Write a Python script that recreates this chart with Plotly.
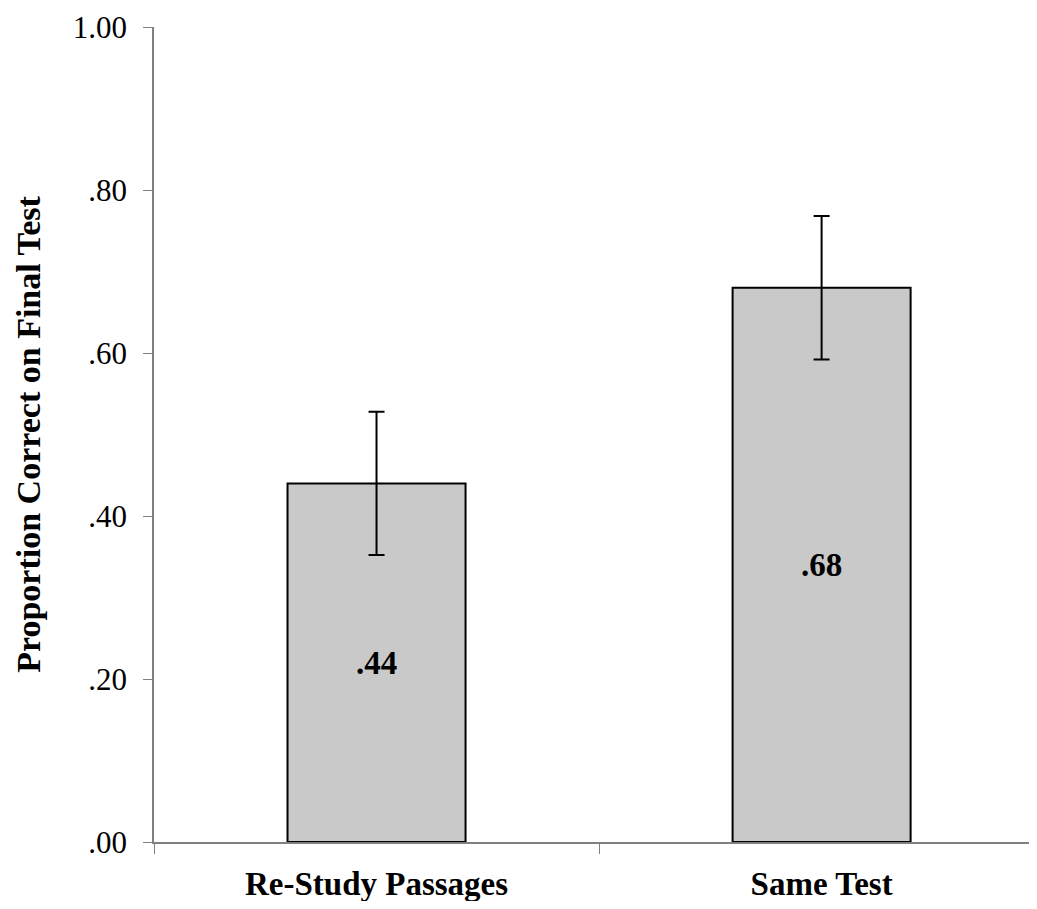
import plotly.graph_objects as go

categories = ["Re-Study Passages", "Same Test"]
values = [0.44, 0.68]
errors = [0.088, 0.088]
bar_labels = [".44", ".68"]
ytick_vals = [0.0, 0.2, 0.4, 0.6, 0.8, 1.0]
ytick_text = [".00", ".20", ".40", ".60", ".80", "1.00"]

FONT = "Liberation Serif, Times New Roman, serif"

fig = go.Figure(
    go.Bar(
        x=categories,
        y=values,
        width=0.4,
        marker=dict(color="#c9c9c9", line=dict(color="black", width=2)),
        error_y=dict(type="data", array=errors, visible=True,
                     color="black", thickness=2, width=8),
        text=bar_labels,
        textposition="inside",
        insidetextanchor="middle",
        textfont=dict(family=FONT, size=33, color="black", weight="bold"),
        hoverinfo="skip",
    )
)

# page body adds an 8px margin, so the figure is sized to fit the window
fig.update_layout(
    width=1021,
    height=893,
    margin=dict(l=146, r=0, t=19, b=59),
    paper_bgcolor="white",
    plot_bgcolor="white",
    showlegend=False,
    font=dict(family=FONT, color="black"),
)

fig.update_xaxes(
    type="category",
    range=[-0.5, 1.466],
    tickson="boundaries",
    ticks="outside",
    ticklen=10,
    tickcolor="#808080",
    tickwidth=1,
    showline=True,
    linecolor="#808080",
    linewidth=1.5,
    showgrid=False,
    tickfont=dict(family=FONT, size=33, color="black", weight="bold"),
    ticklabelstandoff=12,
)

fig.update_yaxes(
    range=[0, 1],
    tickvals=ytick_vals,
    ticktext=ytick_text,
    ticks="outside",
    ticklen=9,
    tickcolor="#808080",
    tickwidth=1,
    showline=True,
    linecolor="#808080",
    linewidth=1.5,
    showgrid=False,
    zeroline=False,
    tickfont=dict(family=FONT, size=31, color="black"),
    ticklabelstandoff=10,
    title=dict(text="Proportion Correct on Final Test",
               font=dict(family=FONT, size=34, color="black", weight="bold"),
               standoff=22),
)

fig.write_html("out.html")
